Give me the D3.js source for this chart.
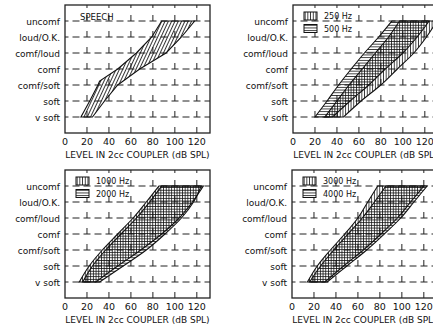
<!DOCTYPE html>
<html>
<head>
    <title>Loudness growth bands</title>
    <script src="https://cdnjs.cloudflare.com/ajax/libs/d3/7.8.5/d3.min.js"></script>
    <style>
        html, body {
            margin: 0;
            padding: 0;
            background: #ffffff;
        }
        svg text {
            font-family: 'DejaVu Sans', sans-serif;
            fill: #111;
        }
    </style>
</head>
<body>
<div id="chart"></div>
<script>
    // rating categories, bottom to top
    const categories = ["v soft", "soft", "comf/soft", "comf", "comf/loud", "loud/O.K.", "uncomf"];
    const xTicks = [0, 20, 40, 60, 80, 100, 120];
    const axisTitle = "LEVEL IN 2cc COUPLER (dB SPL)";

    // speech band (its own levels because of the kink)
    const speechLevels = [1, 2, 3, 3.25, 4, 5, 6, 7];
    const speechLo = [14.5, 22.5, 30, 31.5, 48, 65, 79, 88];
    const speechHi = [25, 36, 48, 53, 68, 92, 106, 118];

    // tone bands, one value per category (v soft .. uncomf)
    const levels = [1, 2, 3, 4, 5, 6, 7];
    const lo250 = [29, 40, 51, 63, 75, 87, 97];
    const hi250 = [46, 62, 80, 95, 110, 121.5, 131];
    const lo500 = [20, 31, 41.5, 53, 65, 78, 90];
    const hi500 = [36, 52, 69, 84, 100, 113, 124];
    const lo1000 = [13, 22, 34, 48, 62, 74, 85.5];
    const hi1000 = [28, 48, 69, 88, 104, 116, 126];
    const lo2000 = [16, 25, 37, 51, 65, 77, 88];
    const hi2000 = [31.5, 53, 74, 91, 106, 117, 124];
    const lo3000 = [14, 23, 35, 48, 60, 69, 78];
    const hi3000 = [30, 47, 65, 81, 96, 108, 120];
    const lo4000 = [16, 26, 38, 51, 64, 75, 85.5];
    const hi4000 = [32, 50, 68, 84, 99, 111, 123];

    const W = 433, H = 326;
    const boxW = 145, boxH = 128;

    const svg = d3.select("#chart").append("svg")
        .attr("width", W)
        .attr("height", H);

    const defs = svg.append("defs");

    function hatch(id, size, angle, width) {
        const p = defs.append("pattern")
            .attr("id", id)
            .attr("patternUnits", "userSpaceOnUse")
            .attr("width", size)
            .attr("height", size)
            .attr("patternTransform", "rotate(" + angle + ")");
        p.append("line")
            .attr("x1", size / 2).attr("y1", 0)
            .attr("x2", size / 2).attr("y2", size)
            .attr("stroke", "#111")
            .attr("stroke-width", width);
    }
    hatch("h-diag", 3, 25, 0.85);
    hatch("h-vert", 2.7, 0, 0.8);
    hatch("h-horz", 2.7, 90, 0.8);

    function rows(lv, lo, hi) {
        return lv.map((l, i) => ({ lv: l, lo: lo[i], hi: hi[i] }));
    }

    const panels = [
        { x: 65, y: 5, label: "SPEECH", curve: d3.curveLinear,
          series: [{ data: rows(speechLevels, speechLo, speechHi), fill: "h-diag" }] },
        { x: 293, y: 5, curve: d3.curveMonotoneY,
          legend: [["250 Hz", "h-vert"], ["500 Hz", "h-horz"]],
          series: [{ data: rows(levels, lo250, hi250), fill: "h-vert" },
                   { data: rows(levels, lo500, hi500), fill: "h-horz" }] },
        { x: 65, y: 170, curve: d3.curveMonotoneY,
          legend: [["1000 Hz", "h-vert"], ["2000 Hz", "h-horz"]],
          series: [{ data: rows(levels, lo1000, hi1000), fill: "h-vert" },
                   { data: rows(levels, lo2000, hi2000), fill: "h-horz" }] },
        { x: 292, y: 170, curve: d3.curveMonotoneY,
          legend: [["3000 Hz", "h-vert"], ["4000 Hz", "h-horz"]],
          series: [{ data: rows(levels, lo3000, hi3000), fill: "h-vert" },
                   { data: rows(levels, lo4000, hi4000), fill: "h-horz" }] }
    ];

    panels.forEach((p, pi) => {
        const g = svg.append("g").attr("transform", "translate(" + p.x + "," + p.y + ")");
        const x = d3.scaleLinear().domain([0, 132]).range([0, boxW]);
        const y = d3.scaleLinear().domain([0, 8]).range([boxH, 0]);

        const clipId = "clip" + pi;
        defs.append("clipPath").attr("id", clipId)
            .append("rect").attr("width", boxW).attr("height", boxH);

        // dashed rows with little upright ticks
        const grid = g.append("g").attr("stroke", "#222").attr("stroke-width", 1);
        levels.forEach(l => {
            grid.append("line")
                .attr("x1", 0).attr("x2", boxW)
                .attr("y1", y(l)).attr("y2", y(l))
                .attr("stroke-dasharray", "7,4")
                .attr("stroke-dashoffset", 3.5);
            xTicks.slice(1).forEach(t => {
                grid.append("line")
                    .attr("x1", x(t)).attr("x2", x(t))
                    .attr("y1", y(l)).attr("y2", y(l) - 6);
            });
        });
        xTicks.slice(1).forEach(t => {
            grid.append("line").attr("x1", x(t)).attr("x2", x(t))
                .attr("y1", boxH).attr("y2", boxH - 6);
            grid.append("line").attr("x1", x(t)).attr("x2", x(t))
                .attr("y1", 0).attr("y2", 3);
        });

        // bands
        const area = d3.area()
            .y(d => y(d.lv))
            .x0(d => x(d.lo))
            .x1(d => x(d.hi))
            .curve(p.curve);
        const bandG = g.append("g").attr("clip-path", "url(#" + clipId + ")");
        p.series.forEach(s => {
            bandG.append("path")
                .datum(s.data)
                .attr("d", area)
                .attr("fill", "url(#" + s.fill + ")")
                .attr("stroke", "#111")
                .attr("stroke-width", 1.1);
        });

        // frame
        g.append("rect")
            .attr("width", boxW).attr("height", boxH)
            .attr("fill", "none")
            .attr("stroke", "#222")
            .attr("stroke-width", 1.3);

        // category labels
        g.selectAll(".cat")
            .data(categories)
            .enter().append("text")
            .attr("x", -5)
            .attr("y", (d, i) => y(levels[i]) + 3.5)
            .attr("text-anchor", "end")
            .attr("font-size", 9)
            .text(d => d);

        // x tick labels
        g.selectAll(".tick")
            .data(xTicks)
            .enter().append("text")
            .attr("x", d => x(d))
            .attr("y", boxH + 12)
            .attr("text-anchor", "middle")
            .attr("font-size", 9.5)
            .text(d => d);

        g.append("text")
            .attr("x", boxW / 2)
            .attr("y", boxH + 25)
            .attr("text-anchor", "middle")
            .attr("font-size", 9)
            .text(axisTitle);

        if (p.label) {
            g.append("text")
                .attr("x", 15).attr("y", 15)
                .attr("font-size", 8.5)
                .text(p.label);
        }

        if (p.legend) {
            p.legend.forEach((l, i) => {
                const ly = 7 + i * 12.5;
                g.append("rect")
                    .attr("x", 11).attr("y", ly)
                    .attr("width", 13).attr("height", 8)
                    .attr("fill", "#fff");
                g.append("rect")
                    .attr("x", 11).attr("y", ly)
                    .attr("width", 13).attr("height", 8)
                    .attr("fill", "url(#" + l[1] + ")")
                    .attr("stroke", "#111")
                    .attr("stroke-width", 1);
                g.append("text")
                    .attr("x", 31).attr("y", ly + 7)
                    .attr("font-size", 8)
                    .text(l[0]);
            });
        }
    });
</script>
</body>
</html>
